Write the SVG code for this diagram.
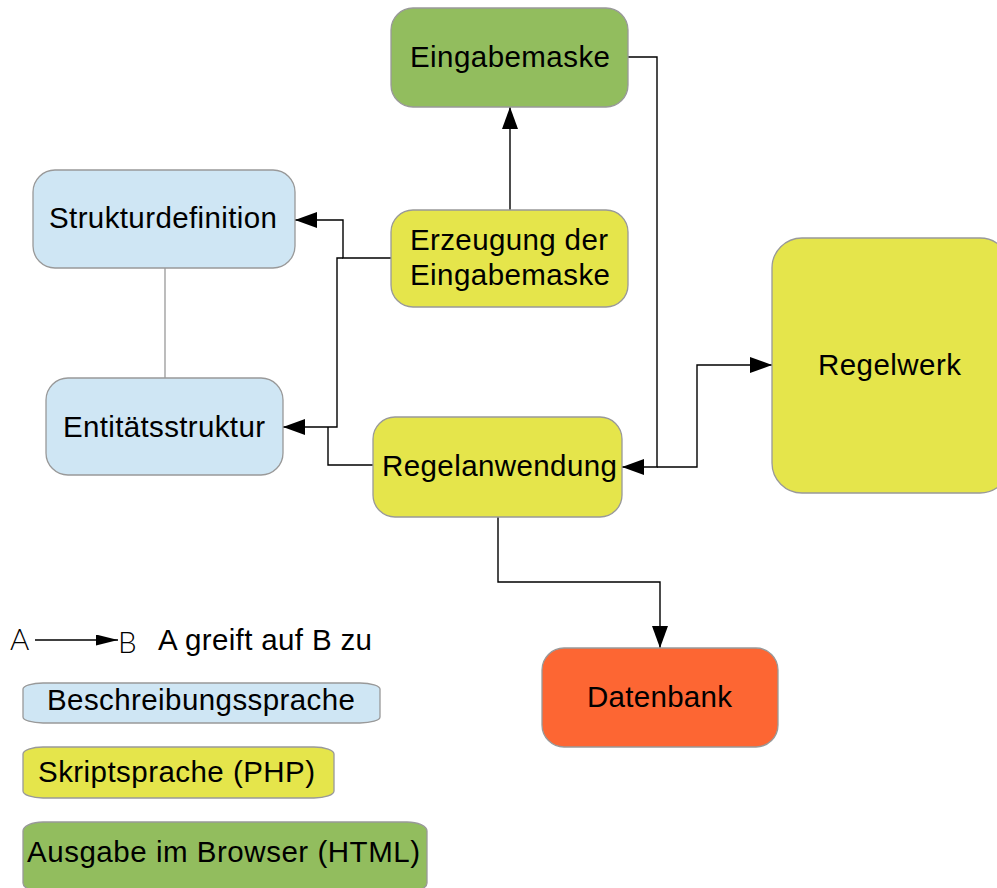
<svg xmlns="http://www.w3.org/2000/svg" width="997" height="888" viewBox="0 0 997 888">
<style>
text{font-family:"Liberation Sans",Arial,sans-serif;font-size:29.5px;fill:#000}
.n{stroke:#999;stroke-width:1.3}
.blue{fill:#cfe6f4}
.yellow{fill:#e5e54b}
.green{fill:#92bd5e}
.orange{fill:#fd6633}
.c{fill:none;stroke:#000;stroke-width:1.4}
.thin{font-weight:300;font-family:"Lato","DejaVu Sans",sans-serif}
</style>
<defs>
<marker id="arr" viewBox="0 0 22 16" refX="22" refY="8" markerWidth="22" markerHeight="16" markerUnits="userSpaceOnUse" orient="auto">
<path d="M0,0 L22,8 L0,16 z" fill="#000"/>
</marker>
<marker id="arrs" viewBox="0 0 22 11" refX="22" refY="5.5" markerWidth="22" markerHeight="11" markerUnits="userSpaceOnUse" orient="auto">
<path d="M0,0 L22,5.5 L0,11 z" fill="#000"/>
</marker>
</defs>
<rect width="997" height="888" fill="#fff"/>
<g id="connectors">
<path class="c" d="M510,210 V107" marker-end="url(#arr)"/>
<path class="c" d="M391,258 H343 V220 H295" marker-end="url(#arr)"/>
<path class="c" d="M343,258 H337 V427 H283" marker-end="url(#arr)"/>
<path class="c" d="M373,465 H328 V427"/>
<path class="c" d="M628,57 H657 V467 H622" marker-end="url(#arr)"/>
<path class="c" d="M657,467 H697 V365 H772" marker-end="url(#arr)"/>
<path class="c" d="M498,517 V582 H660 V648" marker-end="url(#arr)"/>
<path d="M165,268 V378" fill="none" stroke="#999" stroke-width="1.3"/>
</g>
<g id="eingabemaske">
<rect class="n green" x="391" y="8" width="237" height="99" rx="22" ry="22"/>
<text x="410" y="67" textLength="200" lengthAdjust="spacing">Eingabemaske</text>
</g>
<g id="erzeugung">
<rect class="n yellow" x="391" y="210" width="237" height="97" rx="22" ry="22"/>
<text x="410" y="250" textLength="198" lengthAdjust="spacing">Erzeugung der</text>
<text x="410" y="285" textLength="200" lengthAdjust="spacing">Eingabemaske</text>
</g>
<g id="strukturdefinition">
<rect class="n blue" x="33" y="170" width="262" height="98" rx="22" ry="22"/>
<text x="49" y="228" textLength="228" lengthAdjust="spacing">Strukturdefinition</text>
</g>
<g id="entitaetsstruktur">
<rect class="n blue" x="46" y="378" width="237" height="97" rx="22" ry="22"/>
<text x="63" y="437" textLength="202" lengthAdjust="spacing">Entitätsstruktur</text>
</g>
<g id="regelanwendung">
<rect class="n yellow" x="373" y="417" width="249" height="100" rx="22" ry="22"/>
<text x="382" y="476" textLength="235" lengthAdjust="spacing">Regelanwendung</text>
</g>
<g id="regelwerk">
<rect class="n yellow" x="772" y="238" width="238" height="255" rx="30" ry="30"/>
<text x="818" y="375" textLength="143" lengthAdjust="spacing">Regelwerk</text>
</g>
<g id="datenbank">
<rect class="n orange" x="542" y="648" width="236" height="99" rx="22" ry="22"/>
<text x="587" y="707" textLength="145" lengthAdjust="spacing">Datenbank</text>
</g>
<g id="legend">
<text class="thin" x="10" y="650" font-size="37">A</text>
<path class="c" d="M35,640 H118" marker-end="url(#arrs)"/>
<text class="thin" x="118" y="653" font-size="35">B</text>
<text x="158" y="650" textLength="214" lengthAdjust="spacing">A greift auf B zu</text>
<rect class="n blue" x="23" y="683" width="357" height="40" rx="20" ry="6"/>
<text x="47" y="710" textLength="308" lengthAdjust="spacing">Beschreibungssprache</text>
<rect class="n yellow" x="23" y="747" width="311" height="51" rx="20" ry="7"/>
<text x="38" y="782" textLength="277" lengthAdjust="spacing">Skriptsprache (PHP)</text>
<rect class="n green" x="23" y="822" width="404" height="70" rx="20" ry="9"/>
<text x="27" y="862" textLength="393" lengthAdjust="spacing">Ausgabe im Browser (HTML)</text>
</g>
</svg>
